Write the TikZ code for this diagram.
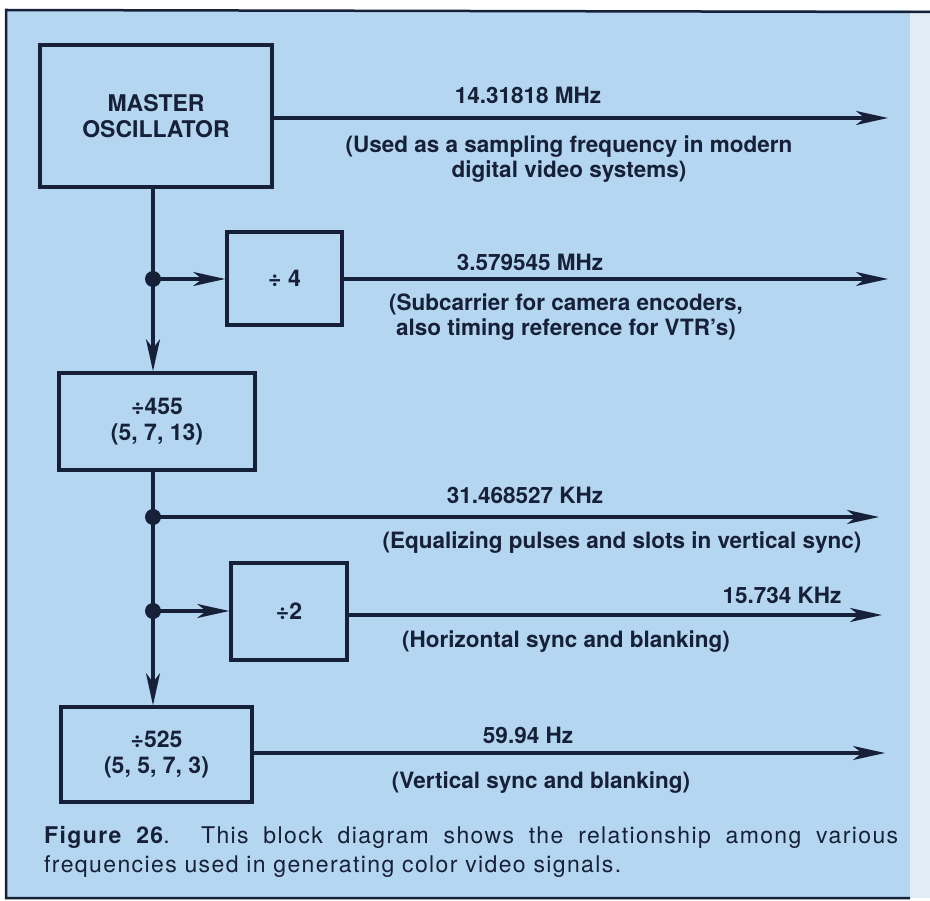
\documentclass[tikz,border=0pt]{standalone}
\usepackage{fontspec}
\setmainfont{TeX Gyre Heros}
\newfontfamily\capfont[LetterSpace=6]{TeX Gyre Heros}
\usetikzlibrary{arrows.meta}
\definecolor{bgblue}{RGB}{181,214,240}
\definecolor{ink}{RGB}{22,32,56}
\definecolor{edge}{RGB}{226,236,244}

\begin{document}
\begin{tikzpicture}[
    x=1pt, y=-1pt,
    box/.style={draw=ink, line width=3.5pt, inner sep=0pt, align=center, text=ink,
        font=\bfseries\fontsize{23}{26}\selectfont},
    arr/.style={-{Stealth[length=32pt, width=14pt, inset=9pt]}, line width=3.2pt, draw=ink},
    wire/.style={line width=3.2pt, draw=ink},
    junc/.style={circle, fill=ink, inner sep=0pt, minimum size=16pt},
    lbl/.style={text=ink, inner sep=0pt, font=\bfseries\fontsize{22.5}{25}\selectfont},
    note/.style={text=ink, inner sep=0pt, align=center, font=\bfseries\fontsize{22.5}{25}\selectfont},
]
\useasboundingbox (0,0) rectangle (930,901);
\fill[white] (0,0) rectangle (930,901);
\fill[bgblue] (6,10) rectangle (910,898);
\fill[edge] (910,10) rectangle (930,898);
\draw[ink, line width=2.5pt] (930,12) -- (6,10) -- (6,898) -- (910,898);

% blocks
\node[box, minimum width=232pt, minimum height=142pt] (osc) at (156,116) {MASTER\\OSCILLATOR};
\node[box, minimum width=115pt, minimum height=93pt] (div4) at (284.5,278.5) {÷ 4};
\node[box, minimum width=196pt, minimum height=97pt] (div455) at (157,421.5) {÷455\\(5, 7, 13)};
\node[box, minimum width=116pt, minimum height=97pt] (div2) at (289,611.5) {÷2};
\node[box, minimum width=191pt, minimum height=95pt] (div525) at (156.5,754.5) {÷525\\(5, 5, 7, 3)};

% junctions and outputs
\node[junc] (j1) at (153,279) {};
\node[junc] (j2) at (153,517) {};
\node[junc] (j3) at (153,611) {};
\coordinate (o1) at (888,118);
\coordinate (o2) at (888,279);
\coordinate (o3) at (879,517);
\coordinate (o4) at (882,615);
\coordinate (o5) at (885,753);

\draw[wire] (osc.south -| j1) -- (j1.center);
\draw[arr] (j1.center) -- (div4.west |- j1);
\draw[arr] (j1.center) -- (div455.north -| j1);
\draw[wire] (div455.south -| j2) -- (j2.center);
\draw[wire] (j2.center) -- (j3.center);
\draw[arr] (j3.center) -- (div2.west |- j3);
\draw[arr] (j3.center) -- (div525.north -| j3);

\draw[arr] (osc.east |- o1) -- (o1);
\draw[arr] (div4.east |- o2) -- (o2);
\draw[arr] (j2.center) -- (o3);
\draw[arr] (div2.east |- o4) -- (o4);
\draw[arr] (div525.east |- o5) -- (o5);

% labels
\node[lbl] (f1) at (528,95) {14.31818 MHz};
\node[note] (n1) at (569,159.5) {(Used as a sampling frequency in modern\\digital video systems)};
\node[lbl] (f2) at (530,262) {3.579545 MHz};
\node[note] (n2) at (566,317.5) {(Subcarrier for camera encoders,\\also timing reference for VTR's)};
\node[lbl] (f3) at (525,495) {31.468527 KHz};
\node[note] (n3) at (622,543) {(Equalizing pulses and slots in vertical sync)};
\node[lbl] (f4) at (782,595) {15.734 KHz};
\node[note] (n4) at (566,642) {(Horizontal sync and blanking)};
\node[lbl] (f5) at (528,735) {59.94 Hz};
\node[note] (n5) at (541,783) {(Vertical sync and blanking)};

% caption
\node[text=ink, inner sep=0pt, anchor=west, font=\capfont\fontsize{23}{26}\selectfont] (cap1) at (44,837)
    {\makebox[854pt][s]{{\bfseries Figure 26}. This block diagram shows the relationship among various}};
\node[text=ink, inner sep=0pt, anchor=west, font=\capfont\fontsize{23}{26}\selectfont] (cap2) at (44,867)
    {frequencies used in generating color video signals.};
\end{tikzpicture}
\end{document}
